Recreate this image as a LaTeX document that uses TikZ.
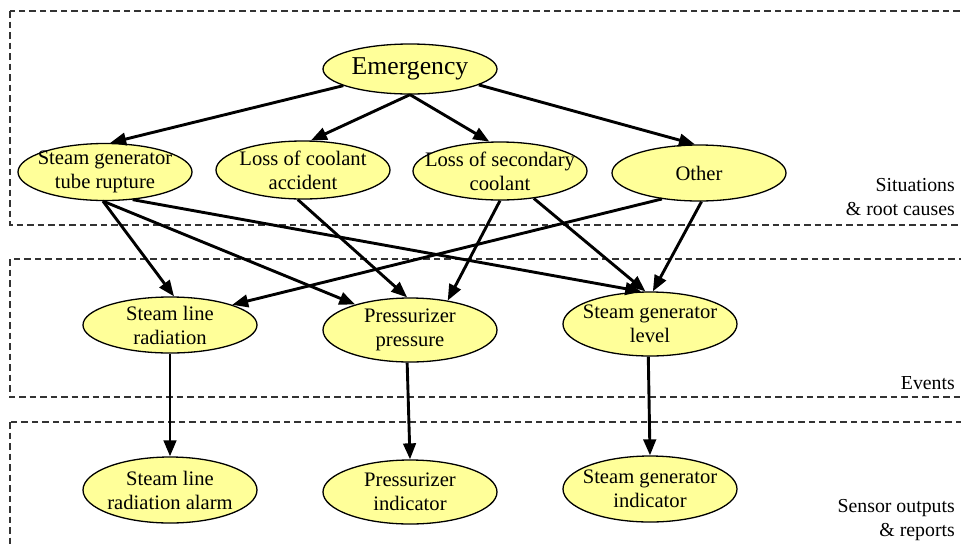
\documentclass[tikz,border=0pt]{standalone}
\usepackage{fontspec}
\setmainfont{Liberation Serif}
\usetikzlibrary{shapes.geometric,arrows.meta}
\definecolor{nodefill}{HTML}{FFFF99}
\begin{document}
\begin{tikzpicture}[x=1pt,y=-1pt,
  ev/.style={ellipse, draw=black, line width=1.3pt, fill=nodefill, inner sep=-25pt,
    minimum width=174pt, align=center, font=\fontsize{20.6}{24}\selectfont},
  edge/.style={line width=2.9pt, -{Triangle[length=16pt,width=12.5pt]}},
  zone/.style={draw=black!80, line width=1.2pt, dash pattern=on 6.5pt off 4pt},
  lbl/.style={anchor=east, align=right, inner sep=0pt, font=\fontsize{19.8}{23.5}\selectfont}
]
\useasboundingbox (0,0) rectangle (961,547);
\clip (0,0) rectangle (961,547);

% layers
\draw[zone] (10,11) rectangle (990,225);
\draw[zone] (10,259) rectangle (990,397);
\draw[zone] (10,422) rectangle (990,590);

\node[lbl] (lab1) at (955,197) {Situations\\\& root causes};
\node[lbl] (lab2) at (955,383) {Events};
\node[lbl] (lab3) at (955,520) {Sensor outputs\\\& reports};

% nodes
\node[ev, minimum height=50pt, font=\fontsize{25.7}{30}\selectfont] (em) at (410,69) {Emergency};
\node[ev, minimum height=57pt] (sgtr) at (105,172) {Steam generator\\tube rupture};
\node[ev, minimum height=58pt] (loca) at (303,170) {Loss of coolant\\accident};
\node[ev, minimum height=58pt] (losc) at (500,171) {Loss of secondary\\coolant};
\node[ev, minimum height=56pt] (oth) at (699,173) {Other};

\node[ev, minimum height=56pt] (slr) at (170,325) {Steam line\\radiation};
\node[ev, minimum height=64pt] (pp) at (410,330) {Pressurizer\\pressure};
\node[ev, minimum height=64pt] (sgl) at (650,324) {Steam generator\\level};

\node[ev, minimum height=66pt] (slra) at (170,490) {Steam line\\radiation alarm};
\node[ev, minimum height=64pt] (pi) at (410,492) {Pressurizer\\indicator};
\node[ev, minimum height=66pt] (sgi) at (650,489) {Steam generator\\indicator};

% edges
\draw[edge] (em.-166) -- (sgtr.80);
\draw[edge] (em.-90) -- (loca.75);
\draw[edge] (em.-90) -- (losc.110);
\draw[edge] (em.-13) -- (oth.98);

\draw[edge] (sgtr.-94) -- (slr.82);
\draw[edge] (sgtr.-94) -- (pp.155);
\draw[edge] (sgtr.-45) -- (sgl.105);
\draw[edge] (loca.-100) -- (pp.95);
\draw[edge] (losc.-90) -- (pp.38);
\draw[edge] (losc.-39) -- (sgl.98);
\draw[edge] (oth.-145) -- (slr.18);
\draw[edge] (oth.-85) -- (sgl.85);

\draw[edge] (slr.-90) -- (slra.90);
\draw[edge] (pp.-95) -- (pi.90);
\draw[edge] (sgl.-93) -- (sgi.90);
\end{tikzpicture}
\end{document}
